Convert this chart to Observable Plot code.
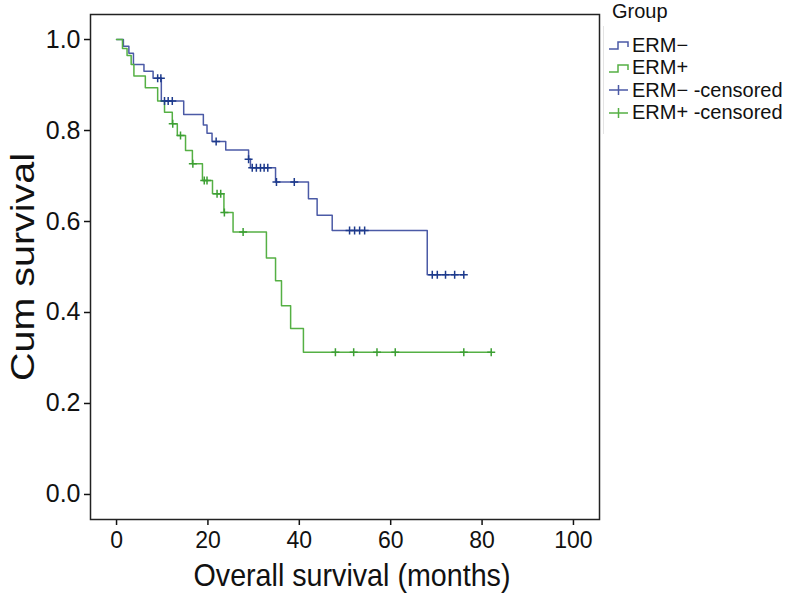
<!DOCTYPE html>
<html><head><meta charset="utf-8">
<script src="https://cdn.jsdelivr.net/npm/d3@7"></script>
<script src="https://cdn.jsdelivr.net/npm/@observablehq/plot@0.6"></script>
<style>
body{margin:0;background:#fff;}
#wrap{position:relative;width:790px;height:600px;font-family:"Liberation Sans",Arial,sans-serif;}
#legend{position:absolute;left:603px;top:0;width:187px;font-size:20px;color:#111;}
#legend .title{position:absolute;left:9px;top:0px;font-size:20px;}
#legend .box{position:absolute;left:0;top:26px;height:108px;border-left:1px solid #e4e4e4;}
#legend .item{position:absolute;left:4px;height:22px;display:flex;align-items:center;white-space:nowrap;}
#legend svg{margin-right:2px;}
</style></head><body><div id="wrap"></div>
<script>
// ---- data ----
const groups = ["ERM−", "ERM+"];
const ermNegTimes = [0, 1.5, 2.7, 3.7, 6, 8, 9.8, 14.7, 19, 19.8, 20.9, 23.9, 28.9, 29.3, 34.8, 42, 43.9, 47.2, 68, 76];
const ermNegSurv  = [1.0, 0.985, 0.97, 0.945, 0.93, 0.915, 0.865, 0.835, 0.812, 0.794, 0.776, 0.757, 0.737, 0.718, 0.687, 0.65, 0.614, 0.58, 0.483, 0.483];
const ermNegCensored = [9, 9.7, 10.5, 11.3, 12.2, 21.8, 28.9, 29.7, 30.6, 31.5, 32.3, 33.1, 35, 38.9, 51, 52.1, 53.2, 54.3, 69.1, 70.2, 72, 74, 76];
const ermPosTimes = [0, 1.3, 2.3, 3.2, 3.8, 6.3, 9, 10.5, 12.2, 13.3, 15.1, 16.6, 18.8, 21, 23.5, 25.5, 32.8, 34.8, 36.1, 38.1, 40.9, 82];
const ermPosSurv  = [1.0, 0.98, 0.965, 0.945, 0.92, 0.894, 0.865, 0.84, 0.815, 0.789, 0.756, 0.727, 0.69, 0.661, 0.62, 0.577, 0.52, 0.47, 0.415, 0.365, 0.3125, 0.3125];
const ermPosCensored = [12.3, 14, 16.7, 19.2, 19.8, 22, 22.8, 23.6, 27.7, 47.9, 51.9, 57, 61, 76, 82];
const xTicks = [0, 20, 40, 60, 80, 100];
const yTicks = [0.0, 0.2, 0.4, 0.6, 0.8, 1.0];
const legendLabels = ["ERM−", "ERM+", "ERM− -censored", "ERM+ -censored"];

// ---- styles ----
const negLine = "#4b5aa6", negMark = "#1d3a8c";
const posLine = "#55b044", posMark = "#3c9f33";
const narrow = "'Liberation Sans Narrow', 'Arial Narrow', 'Liberation Sans', sans-serif";

function rows(times, surv) { return times.map((t, i) => ({t, s: surv[i]})); }
function stepValue(times, surv, t) {
  let v = surv[0];
  for (let i = 0; i < times.length; i++) if (times[i] <= t) v = surv[i];
  return v;
}
function censorRows(c, times, surv) { return c.map(t => ({t, s: stepValue(times, surv, t)})); }

const plusSymbol = {
  draw(context, size) {
    const l = Math.sqrt(size / Math.PI);
    context.moveTo(0, -l); context.lineTo(0, l);
    context.moveTo(-l, 0); context.lineTo(l, 0);
  }
};

const negData = rows(ermNegTimes, ermNegSurv);
const posData = rows(ermPosTimes, ermPosSurv);
const negCens = censorRows(ermNegCensored, ermNegTimes, ermNegSurv);
const posCens = censorRows(ermPosCensored, ermPosTimes, ermPosSurv);

const chart = Plot.plot({
  width: 790, height: 600,
  marginLeft: 90, marginRight: 191, marginTop: 14, marginBottom: 81,
  x: {domain: [-5.7, 105.7]},
  y: {domain: [-0.055, 1.055]},
  style: {fontFamily: "'Liberation Sans', Arial, sans-serif", background: "white", color: "#111"},
  marks: [
    Plot.axisX({ticks: xTicks, tickSize: 6, tickPadding: 6, fontSize: 23, strokeWidth: 1.5, fontFamily: narrow,
      label: "Overall survival (months)", labelAnchor: "center", labelOffset: 66, labelArrow: false}),
    Plot.axisY({ticks: yTicks, tickFormat: d => d.toFixed(1), tickSize: 6, tickPadding: 4, fontSize: 25, strokeWidth: 1.5,
      label: "Cum survival", labelAnchor: "center", labelOffset: 80, labelArrow: false}),
    Plot.line(negData, {x: "t", y: "s", curve: "step-after", stroke: negLine, strokeWidth: 1.5}),
    Plot.line(posData, {x: "t", y: "s", curve: "step-after", stroke: posLine, strokeWidth: 1.5}),
    Plot.dot(negCens, {x: "t", y: "s", symbol: plusSymbol, r: 4, fill: "none", stroke: negMark, strokeWidth: 1.5}),
    Plot.dot(posCens, {x: "t", y: "s", symbol: plusSymbol, r: 4, fill: "none", stroke: posMark, strokeWidth: 1.5}),
    Plot.frame({stroke: "#222", strokeWidth: 1.5})
  ]
});
const wrap = document.getElementById("wrap");
wrap.appendChild(chart);
d3.select(chart).selectAll('g[aria-label="x-axis label"] text')
  .style("font-size", "32px").style("font-family", "'Liberation Sans', Arial, sans-serif")
  .attr("textLength", 317).attr("lengthAdjust", "spacingAndGlyphs")
  .attr("dx", 7);
d3.select(chart).selectAll('g[aria-label="y-axis label"] text')
  .style("font-size", "33px")
  .attr("textLength", 228).attr("lengthAdjust", "spacingAndGlyphs");

// ---- legend ----
const legend = document.createElement("div");
legend.id = "legend";
let html = '<div class="title">Group</div><div class="box"></div>';
const icons = [
  `<svg width="23" height="12"><path d="M2,10H11V3H21V8" fill="none" stroke="${negLine}" stroke-width="1.5"/></svg>`,
  `<svg width="23" height="12"><path d="M2,10H11V3H21V8" fill="none" stroke="${posLine}" stroke-width="1.5"/></svg>`,
  `<svg width="23" height="12"><path d="M2,6H21M11.5,1V11" fill="none" stroke="${negLine}" stroke-width="1.5"/></svg>`,
  `<svg width="23" height="12"><path d="M2,6H21M11.5,1V11" fill="none" stroke="${posLine}" stroke-width="1.5"/></svg>`
];
legendLabels.forEach((lab, i) => {
  html += `<div class="item" style="top:${34 + i * 22.5}px">${icons[i]}<span>${lab}</span></div>`;
});
legend.innerHTML = html;
wrap.appendChild(legend);
</script></body></html>
